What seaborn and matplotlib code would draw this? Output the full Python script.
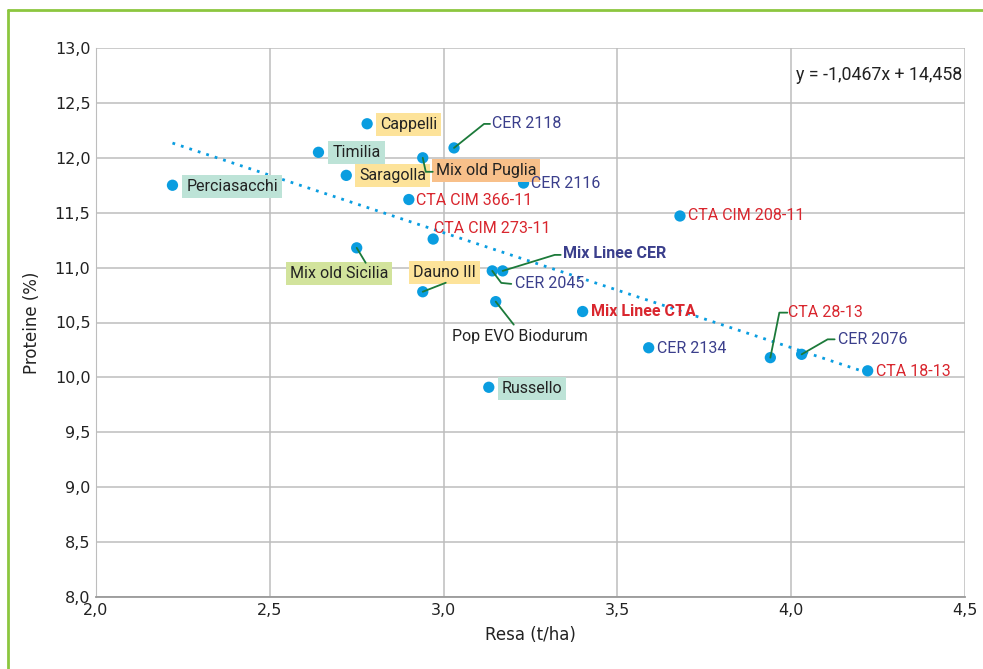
import matplotlib
matplotlib.use("Agg")
import matplotlib.pyplot as plt
from matplotlib.lines import Line2D
from matplotlib.ticker import FuncFormatter, MultipleLocator
import numpy as np
import pandas as pd
import seaborn as sns

# ---- data ----
varieties = ["Perciasacchi", "Timilia", "Cappelli", "Saragolla", "Mix old Puglia",
             "CER 2118", "CER 2116", "CTA CIM 366-11", "CTA CIM 273-11", "Mix old Sicilia",
             "CTA CIM 208-11", "Mix Linee CER", "CER 2045", "Dauno III", "Pop EVO Biodurum",
             "Mix Linee CTA", "CER 2134", "Russello", "CTA 28-13", "CER 2076", "CTA 18-13"]
resa = [2.22, 2.64, 2.78, 2.72, 2.94,
        3.03, 3.23, 2.90, 2.97, 2.75,
        3.68, 3.17, 3.14, 2.94, 3.15,
        3.40, 3.59, 3.13, 3.94, 4.03, 4.22]
proteine = [11.75, 12.05, 12.31, 11.84, 12.00,
            12.09, 11.77, 11.62, 11.26, 11.18,
            11.47, 10.97, 10.97, 10.78, 10.69,
            10.60, 10.27, 9.91, 10.18, 10.21, 10.06]
groups = ["old", "old", "old", "old", "mixpuglia",
          "cer", "cer", "cta", "cta", "mixsicilia",
          "cta", "cermix", "cer", "old", "pop",
          "ctamix", "cer", "old", "cta", "cer", "cta"]
trend_slope = -1.0467
trend_intercept = 14.458

# ---- styles ----
POINT = "#0a9de0"
CER = "#3b3f8c"
CTA = "#d9262e"
LEADER = "#1c7a3a"
BOX_YELLOW = "#fde39a"
BOX_TEAL = "#bde3d7"
BOX_ORANGE = "#f8c08a"
BOX_GREEN = "#d2e39c"
FRAME = "#8cc63f"

label_style = {
    "Perciasacchi": dict(color="#222222", box=BOX_TEAL),
    "Timilia": dict(color="#222222", box=BOX_TEAL),
    "Cappelli": dict(color="#222222", box=BOX_YELLOW),
    "Saragolla": dict(color="#222222", box=BOX_YELLOW),
    "Mix old Puglia": dict(color="#222222", box=BOX_ORANGE),
    "Mix old Sicilia": dict(color="#222222", box=BOX_GREEN),
    "Dauno III": dict(color="#222222", box=BOX_YELLOW),
    "Russello": dict(color="#222222", box=BOX_TEAL),
    "Pop EVO Biodurum": dict(color="#222222", box=None),
    "Mix Linee CER": dict(color=CER, box=None, bold=True),
    "Mix Linee CTA": dict(color=CTA, box=None, bold=True),
}

# label anchor offsets in pixels (dx right, dy down), alignment, and leader paths
label_layout = {
    "Perciasacchi": dict(off=(14, 1), ha="left"),
    "Timilia": dict(off=(14, 0), ha="left"),
    "Cappelli": dict(off=(13, 1), ha="left"),
    "Saragolla": dict(off=(13, 0), ha="left"),
    "Mix old Puglia": dict(off=(13, 13), ha="left", path=[(0, 0), (3, 14), (10, 14)]),
    "CER 2118": dict(off=(38, -24), ha="left", path=[(0, 0), (30, -24), (36, -24)]),
    "CER 2116": dict(off=(7, 0), ha="left"),
    "CTA CIM 366-11": dict(off=(7, 1), ha="left"),
    "CTA CIM 273-11": dict(off=(1, -11), ha="left"),
    "Mix old Sicilia": dict(off=(-18, 26), ha="center", path=[(0, 0), (9, 15)]),
    "CTA CIM 208-11": dict(off=(8, 0), ha="left"),
    "Mix Linee CER": dict(off=(60, -17), ha="left", path=[(0, 0), (52, -16), (58, -16)]),
    "CER 2045": dict(off=(23, 13), ha="left", path=[(0, 0), (9, 12), (19, 13)]),
    "Dauno III": dict(off=(22, -19), ha="center", path=[(0, 0), (23, -9)]),
    "Pop EVO Biodurum": dict(off=(24, 35), ha="center", path=[(0, 0), (18, 23)]),
    "Mix Linee CTA": dict(off=(8, 0), ha="left"),
    "CER 2134": dict(off=(8, 1), ha="left"),
    "Russello": dict(off=(13, 1), ha="left"),
    "CTA 28-13": dict(off=(18, -45), ha="left", path=[(0, 0), (9, -45), (17, -45)]),
    "CER 2076": dict(off=(36, -15), ha="left", path=[(0, 0), (26, -15), (33, -15)]),
    "CTA 18-13": dict(off=(8, 1), ha="left"),
}

def label_color(name, group):
    if name in label_style:
        return label_style[name]["color"]
    return CER if group == "cer" else CTA

sns.set_style("white")
plt.rcParams["font.family"] = ["DejaVu Sans"]

df = pd.DataFrame({"Resa": resa, "Proteine": proteine, "Varieta": varieties, "Gruppo": groups})

W, H = 983, 669
fig = plt.figure(figsize=(W / 100, H / 100), dpi=100)
ax = fig.add_axes([96 / W, 1 - 597 / H, (965 - 96) / W, (597 - 48) / H])

ax.set_xlim(2.0, 4.5)
ax.set_ylim(8.0, 13.0)
ax.xaxis.set_major_locator(MultipleLocator(0.5))
ax.yaxis.set_major_locator(MultipleLocator(0.5))
comma = FuncFormatter(lambda v, p: f"{v:.1f}".replace(".", ","))
ax.xaxis.set_major_formatter(comma)
ax.yaxis.set_major_formatter(comma)
ax.grid(True, color="#bdbdbd", linewidth=1.1)
ax.set_axisbelow(True)
for side in ["top", "right"]:
    ax.spines[side].set_visible(False)
ax.spines["left"].set_color("#bdbdbd")
ax.spines["bottom"].set_color("#9a9a9a")
ax.spines["bottom"].set_linewidth(1.3)
ax.tick_params(axis="both", length=0, labelsize=11.5, colors="#222222", pad=4)

# trend line
xs = np.array([min(resa), max(resa)])
trend = pd.DataFrame({"Resa": xs, "Proteine": trend_slope * xs + trend_intercept})
sns.lineplot(data=trend, x="Resa", y="Proteine", ax=ax, color=POINT,
             linestyle=(0, (1, 2.2)), linewidth=2.0, zorder=2)

sns.scatterplot(data=df, x="Resa", y="Proteine", ax=ax, color=POINT, s=66,
                edgecolor="none", zorder=4, legend=False)

ax.set_xlabel("Resa (t/ha)", fontsize=12, color="#222222", labelpad=6)
ax.set_ylabel("Proteine (%)", fontsize=12, color="#222222", labelpad=10)

fig.canvas.draw()
label_font = ["Roboto", "DejaVu Sans"]
for name, x, y, g in zip(varieties, resa, proteine, groups):
    lay = label_layout[name]
    px, py = ax.transData.transform((x, y))
    if "path" in lay:
        pts = [(px + dx, py - dy) for dx, dy in lay["path"]]
        fig.add_artist(Line2D([p[0] for p in pts], [p[1] for p in pts], transform=None,
                              color=LEADER, linewidth=1.3, zorder=3))
    st = label_style.get(name, {})
    box = st.get("box")
    bbox = dict(boxstyle="square,pad=0.25", fc=box, ec="none") if box else None
    dx, dy = lay["off"]
    ax.annotate(name, (x, y), xytext=(dx, -dy), textcoords="offset pixels",
                ha=lay["ha"], va="center", fontsize=11.5, family=label_font,
                color=label_color(name, g), fontweight="bold" if st.get("bold") else "normal",
                bbox=bbox, zorder=5)

ax.text(0.997, 0.95, "y = -1,0467x + 14,458", transform=ax.transAxes, ha="right", va="center",
        fontsize=12.8, color="#222222", family=label_font, zorder=6)

# outer frame
fig.add_artist(Line2D([8 / W, 1], [1 - 10 / H, 1 - 10 / H], transform=fig.transFigure,
                      color=FRAME, linewidth=2))
fig.add_artist(Line2D([8 / W, 8 / W], [0, 1 - 10 / H], transform=fig.transFigure,
                      color=FRAME, linewidth=2))

fig.savefig("out.png", dpi=100)
